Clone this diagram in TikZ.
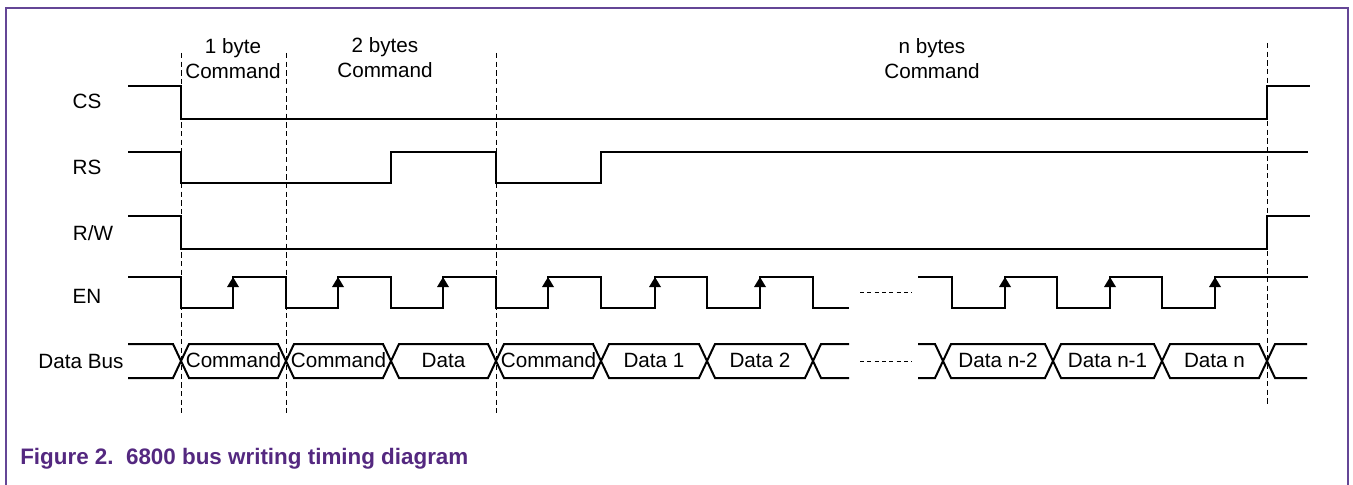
\documentclass[tikz,border=0pt]{standalone}
\usepackage{fontspec}
\setmainfont{Liberation Sans}
\usetikzlibrary{arrows.meta}
\definecolor{FramePurple}{RGB}{100,70,150}
\definecolor{CaptionPurple}{RGB}{84,40,128}

\begin{document}
\begin{tikzpicture}[x=0.75pt, y=-0.75pt,
    sig/.style={line width=1.7pt},
    bus/.style={line width=1.5pt},
    guide/.style={line width=0.7pt, dash pattern=on 4pt off 2.5pt},
    gapdash/.style={line width=0.7pt, dash pattern=on 3pt off 2.5pt},
    lbl/.style={font=\fontsize{15.5}{18.75}\selectfont, inner sep=0pt},
    rise/.style={sig, -{Triangle[width=8.5pt,length=7.5pt]}}]
      \fill[white] (0,0) rectangle (1353,485);
      \useasboundingbox (0,0) rectangle (1353,485);

      % Frame
      \draw[FramePurple, line width=1.5pt] (6,485) -- (6,8) -- (1348,8) -- (1348,485);

      % Guide lines
      \foreach \x in {181,286,496} {
        \draw[guide] (\x,53) -- (\x,413);
      }
      \draw[guide] (1267,43) -- (1267,405);

      % Section labels
      \node[lbl, align=center] (one) at (233,59) {1 byte\\Command};
      \node[lbl, align=center] (two) at (385,58) {2 bytes\\Command};
      \node[lbl, align=center] (many) at (932,59) {n bytes\\Command};

      % Signal names
      \node[lbl] (cs) at (87,101) {CS};
      \node[lbl] (rs) at (87,167) {RS};
      \node[lbl] (rw) at (93,233) {R/W};
      \node[lbl] (en) at (87,296) {EN};
      \node[lbl] (db) at (81,361) {Data Bus};

      % CS, RS, R/W
      \draw[sig] (128,86) -- (181,86) -- (181,119) -- (1267,119) -- (1267,86) -- (1310,86);
      \draw[sig] (128,152) -- (181,152) -- (181,183) -- (391,183) -- (391,152) -- (496,152)
        -- (496,183) -- (601,183) -- (601,152) -- (1308,152);
      \draw[sig] (128,216) -- (181,216) -- (181,249) -- (1267,249) -- (1267,216) -- (1310,216);

      % EN
      \draw[sig] (128,277) foreach \f/\r in {181/233, 286/338, 391/443, 496/548, 601/655, 707/760} {
        -- (\f,277) -- (\f,308) -- (\r,308) -- (\r,277) } -- (813,277) -- (813,308) -- (849,308);
      \draw[sig] (918,277) foreach \f/\r in {952/1005, 1057/1110, 1162/1215} {
        -- (\f,277) -- (\f,308) -- (\r,308) -- (\r,277) } -- (1308,277);
      \foreach \r in {233,338,443,548,655,760,1005,1110,1215} {
        \draw[rise] (\r,300) -- (\r,277);
      }
      \draw[gapdash] (860,292) -- (912,292);

      % Data bus
      \draw[bus] (128,344) -- (173,344) -- (181,361) -- (173,378) -- (128,378);
      \foreach \a/\b/\t [count=\i] in {181/286/Command, 286/391/Command, 391/496/Data,
                            496/601/Command, 601/707/Data 1, 707/813/Data 2,
                            943/1053/Data n-2, 1053/1162/Data n-1, 1162/1267/Data n} {
        \draw[bus] (\a,361) -- (\a+8,344) -- (\b-8,344) -- (\b,361) -- (\b-8,378) -- (\a+8,378) -- cycle;
        \node[lbl] (d\i) at ({(\a+\b)/2},360) {\t};
      }
      \draw[bus] (849,344) -- (821,344) -- (813,361) -- (821,378) -- (849,378);
      \draw[bus] (918,344) -- (935,344) -- (943,361) -- (935,378) -- (918,378);
      \draw[bus] (1307,344) -- (1275,344) -- (1267,361) -- (1275,378) -- (1307,378);
      \draw[gapdash] (860,361) -- (912,361);

      % Caption
      \node[anchor=west, inner sep=0pt, text=CaptionPurple,
            font=\fontsize{16.8}{20}\selectfont\bfseries] (caption) at (20,459)
            {Figure 2.\ \ 6800 bus writing timing diagram};
    \end{tikzpicture}
\end{document}
